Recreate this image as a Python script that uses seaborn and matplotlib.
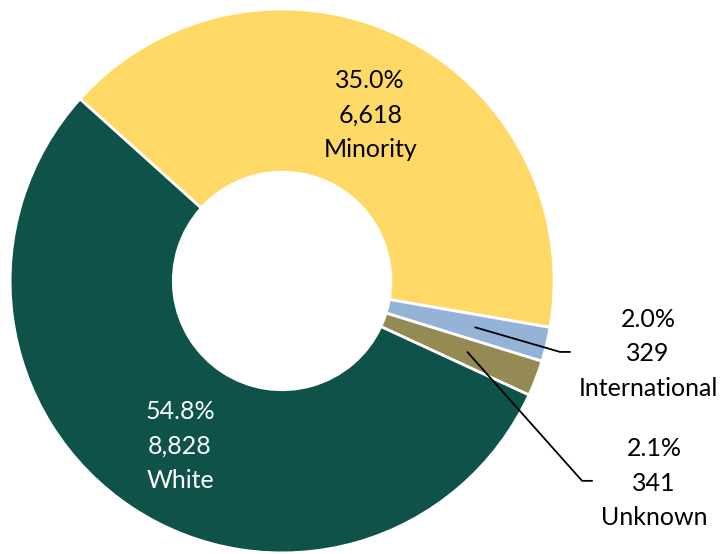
"""Donut chart: enrollment by ethnicity."""

import numpy as np
import matplotlib
matplotlib.use("Agg")
import matplotlib.pyplot as plt
import seaborn as sns

categories = ["Minority", "International", "Unknown", "White"]
counts = [6618, 329, 341, 8828]
pct_labels = ["35.0%", "2.0%", "2.1%", "54.8%"]
colors = ["#FFD966", "#95B3D7", "#948A54", "#0E5249"]

sns.set_theme(style="white")
plt.rcParams["font.family"] = ["Lato", "DejaVu Sans"]

fig = plt.figure(figsize=(7.23, 5.54), dpi=100)
ax = fig.add_axes([0, 0, 1, 1])

wedges, _ = ax.pie(
    counts, colors=colors, startangle=138, counterclock=False,
    radius=1.0, wedgeprops=dict(width=0.6, edgecolor="white", linewidth=2),
)

ax.set_xlim(-1.037, 1.621)
ax.set_ylim(-1.004, 1.033)
ax.set_aspect("equal")
ax.axis("off")


def label(i):
    return f"{pct_labels[i]}\n{counts[i]:,}\n{categories[i]}"


fs = 18
ls = 1.6
# labels inside the big wedges
ax.text(0.324, 0.61, label(0), ha="center", va="center", fontsize=fs,
        color="black", linespacing=ls)
ax.text(-0.375, -0.607, label(3), ha="center", va="center", fontsize=fs,
        color="white", linespacing=ls)

# small wedges: outside labels with leader lines
outside = {1: ((1.346, -0.268), (1.022, -0.261)),
           2: ((1.368, -0.743), (1.103, -0.735))}
for i, (txt_pos, elbow) in outside.items():
    w = wedges[i]
    mid = np.deg2rad((w.theta1 + w.theta2) / 2)
    r = 0.73
    start = (r * np.cos(mid), r * np.sin(mid))
    ax.plot([start[0], elbow[0], elbow[0] + 0.037], [start[1], elbow[1], elbow[1]],
            color="black", lw=1.3)
    ax.text(txt_pos[0], txt_pos[1], label(i), ha="center", va="center",
            fontsize=fs, color="black", linespacing=ls)

fig.savefig("out.png", dpi=100)
plt.close(fig)
